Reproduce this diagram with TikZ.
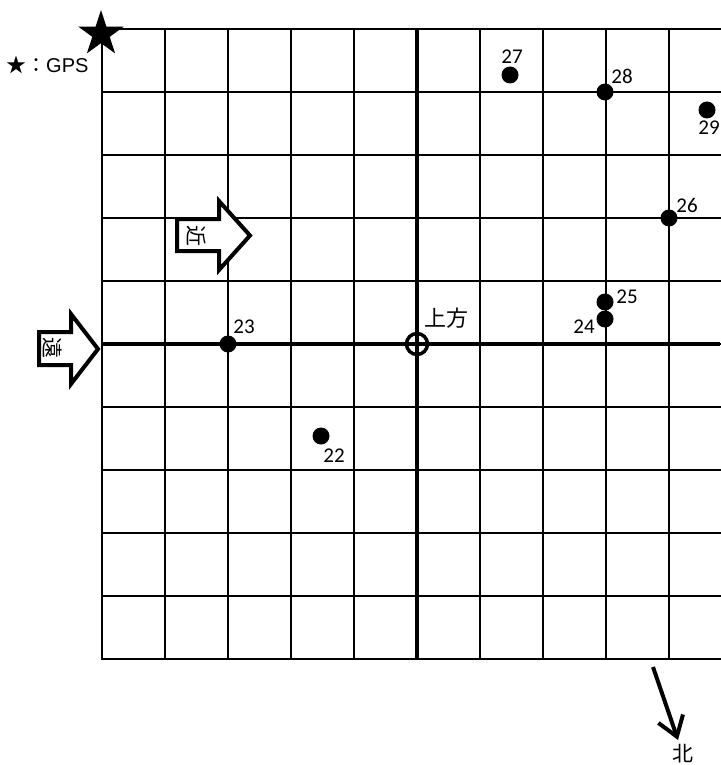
\documentclass[tikz,border=0pt]{standalone}
\usepackage{fontspec}
\setmainfont{Carlito}
\newfontfamily\cjk{Noto Sans CJK JP}
\newfontfamily\arialfont{Liberation Sans}
\usetikzlibrary{arrows.meta,shapes.geometric}
\tikzset{
  gridline/.style={line width=2pt, line cap=rect},
  axisline/.style={line width=3.5pt},
  dot/.style={circle, fill=black, minimum size=17pt, inner sep=0pt},
  num/.style={font=\fontsize{21}{23}\selectfont, inner sep=0pt},
  blockarrow/.style={draw=black, line width=4pt, line join=miter, fill=white},
  kanji/.style={font=\cjk\fontsize{21}{23}\selectfont, inner sep=0pt}
}

\begin{document}
\begin{tikzpicture}[x=1pt,y=-1pt]
  \useasboundingbox (0,0) rectangle (720,765);

  % sky grid
  \foreach \i in {0,...,10} {
    \draw[gridline] (102,29+63*\i) -- (720,29+63*\i);
  }
  \foreach \i in {0,...,9} {
    \draw[gridline] (102+63*\i,29) -- (102+63*\i,659);
  }
  \draw[axisline] (102,344) -- (720,344);
  \draw[axisline] (417,29) -- (417,659);

  % zenith
  \node[circle, draw, line width=3.5pt, minimum size=21pt, inner sep=0pt] (zenith) at (417,344) {};
  \node[kanji, font=\cjk\fontsize{22}{24}\selectfont] (zenithlabel) at (446,318) {上方};

  % GPS marker
  \node[star, star points=5, star point ratio=2.62, fill=black, minimum size=48pt, inner sep=0pt] (gps) at (101,34) {};
  \node[font=\fontsize{20}{22}\selectfont, inner sep=0pt, anchor=west] (gpslabel) at (6,65) {{\cjk ★：}{\arialfont GPS}};

  % far / near arrows
  \draw[blockarrow] (39,332) -- (71,332) -- (71,314) -- (98,349) -- (71,384) -- (71,365) -- (39,365) -- cycle;
  \node[kanji, rotate=-90] (far) at (53,348) {遠};
  \draw[blockarrow] (177,219) -- (219,219) -- (219,201) -- (250,235.5) -- (219,270) -- (219,251) -- (177,251) -- cycle;
  \node[kanji, rotate=-90] (near) at (197,236) {近};

  % satellites
  \foreach \n/\x/\y in {22/321/436, 23/228/344, 24/605/319, 25/605/302,
                        26/669/218, 27/510/75, 28/605/92, 29/707/110} {
    \node[dot] (p\n) at (\x,\y) {};
  }
  \foreach \n/\x/\y in {22/334/456, 23/244/327, 24/584/327, 25/627/297,
                        26/687/205, 27/512/57, 28/622/76, 29/709/128} {
    \node[num] (l\n) at (\x,\y) {\n};
  }

  % north
  \coordinate (ntail) at (653,667);
  \coordinate (nhead) at (678,740);
  \draw[line width=4pt, -{Straight Barb[length=19pt,width=26pt]}] (ntail) -- (nhead);
  \node[kanji] (north) at (683,754) {北};
\end{tikzpicture}
\end{document}
